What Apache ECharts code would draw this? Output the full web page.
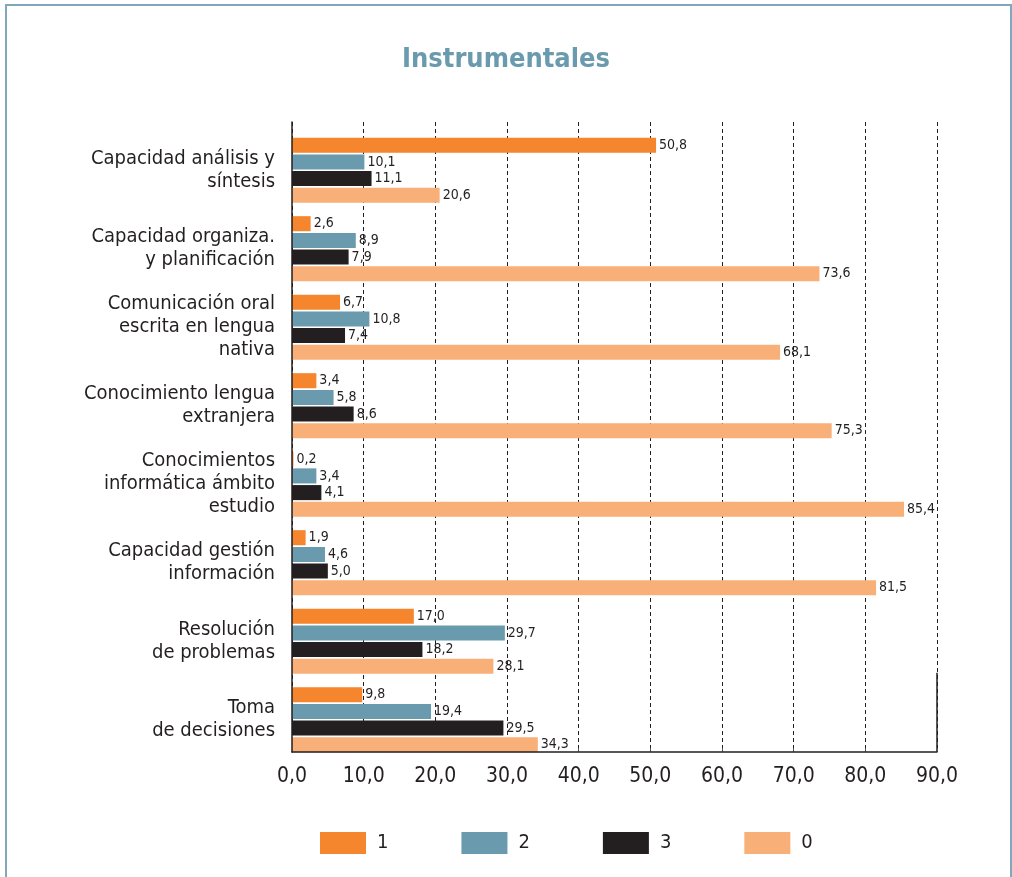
<!DOCTYPE html>
<html><head><meta charset="utf-8">
<script src="https://cdn.jsdelivr.net/npm/echarts@6/dist/echarts.min.js"></script>
<style>html,body{margin:0;padding:0;background:#fff}#c{width:1012px;height:877px}</style>
</head><body><div id="c"></div>
<script>
const categories = [
  "Capacidad análisis y\nsíntesis",
  "Capacidad organiza.\ny planificación",
  "Comunicación oral\nescrita en lengua\nnativa",
  "Conocimiento lengua\nextranjera",
  "Conocimientos\ninformática ámbito\nestudio",
  "Capacidad gestión\ninformación",
  "Resolución\nde problemas",
  "Toma\nde decisiones"
];
const seriesNames = ["1", "2", "3", "0"];
const values1 = [50.8, 2.6, 6.7, 3.4, 0.2, 1.9, 17.0, 9.8];
const values2 = [10.1, 8.9, 10.8, 5.8, 3.4, 4.6, 29.7, 19.4];
const values3 = [11.1, 7.9, 7.4, 8.6, 4.1, 5.0, 18.2, 29.5];
const values0 = [20.6, 73.6, 68.1, 75.3, 85.4, 81.5, 28.1, 34.3];
const xMin = 0, xMax = 90, xStep = 10;

const colors = ["#F5862E", "#6A9AAD", "#231F20", "#F9AF78"];
const font = "'Liberation Sans Narrow', 'DejaVu Sans Condensed', sans-serif";
const fmt = v => v.toFixed(1).replace('.', ',');

const chart = echarts.init(document.getElementById('c'), null, {renderer: 'canvas'});
const allValues = [values1, values2, values3, values0];
const option = {
  animation: false,
  backgroundColor: '#fff',
  title: {
    text: 'Instrumentales', left: 'center', top: 41,
    textStyle: {color: '#6A9AAD', fontSize: 27, fontWeight: 'bold', fontFamily: font}
  },
  legend: {
    bottom: 18, left: 315, itemWidth: 46, itemHeight: 22, itemGap: 73,
    icon: 'rect',
    data: seriesNames,
    textStyle: {fontSize: 20, color: '#231F20', fontFamily: font, padding: [0, 0, 0, 6]}
  },
  grid: [
    {left: 292, right: 75, top: 131, bottom: 118},   // bars
    {left: 292, right: 75, top: 122, bottom: 125}    // axis frame
  ],
  xAxis: [
    {gridIndex: 0, type: 'value', min: xMin, max: xMax, interval: xStep, show: false},
    {gridIndex: 1, type: 'value', position: 'bottom', min: xMin, max: xMax, interval: xStep, z: 0,
      axisLine: {show: false},
      axisTick: {show: true, inside: true, length: 4, lineStyle: {color: '#555'}},
      axisLabel: {fontSize: 21, color: '#231F20', fontFamily: font, margin: 14,
        formatter: v => fmt(v)},
      splitLine: {show: true, lineStyle: {color: '#231F20', type: [4, 3], width: 1}}},
    {gridIndex: 1, type: 'value', position: 'bottom', min: xMin, max: xMax, interval: xStep, z: 6,
      axisLine: {show: true, lineStyle: {color: '#231F20', width: 1.5}},
      axisTick: {show: false}, axisLabel: {show: false}, splitLine: {show: false}}
  ],
  yAxis: [
    {gridIndex: 0, type: 'category', data: categories, inverse: true,
      axisLine: {show: false}, axisTick: {show: false}, splitLine: {show: false},
      axisLabel: {fontSize: 20, color: '#231F20', fontFamily: font, margin: 17, lineHeight: 23, align: 'right'}},
    {gridIndex: 1, type: 'value', position: 'left', min: 0, max: 1, z: 6,
      axisLine: {show: true, lineStyle: {color: '#231F20', width: 1.5}},
      axisTick: {show: false}, axisLabel: {show: false}, splitLine: {show: false}}
  ],
  series: seriesNames.map((n, i) => ({
    name: n, type: 'bar', data: allValues[i], xAxisIndex: 0, yAxisIndex: 0,
    barCategoryGap: '17%', barGap: '11%', z: 3,
    itemStyle: {color: colors[i]},
    label: {show: true, position: 'right', distance: 3, fontSize: 14, color: '#231F20',
      fontFamily: font, formatter: p => fmt(p.value)}
  }))
};
chart.setOption(option);

// frame and right-edge partial line at the last category
const xRight = chart.convertToPixel({xAxisIndex: 1}, xMax);
const yBottom = chart.convertToPixel({yAxisIndex: 1}, 0);
const cLast = chart.convertToPixel({yAxisIndex: 0}, categories[categories.length - 1]);
const cPrev = chart.convertToPixel({yAxisIndex: 0}, categories[categories.length - 2]);
const yTopLine = cLast - (cLast - cPrev) * 0.6;
chart.setOption({
  graphic: [
    {type: 'rect', shape: {x: 6, y: 5, width: 1005, height: 900}, silent: true,
     style: {fill: 'none', stroke: '#7FA8BD', lineWidth: 2}},
    {type: 'line', shape: {x1: xRight, y1: yTopLine, x2: xRight, y2: yBottom},
     style: {stroke: '#231F20', lineWidth: 1.5}}
  ]
});
</script>
</body></html>
